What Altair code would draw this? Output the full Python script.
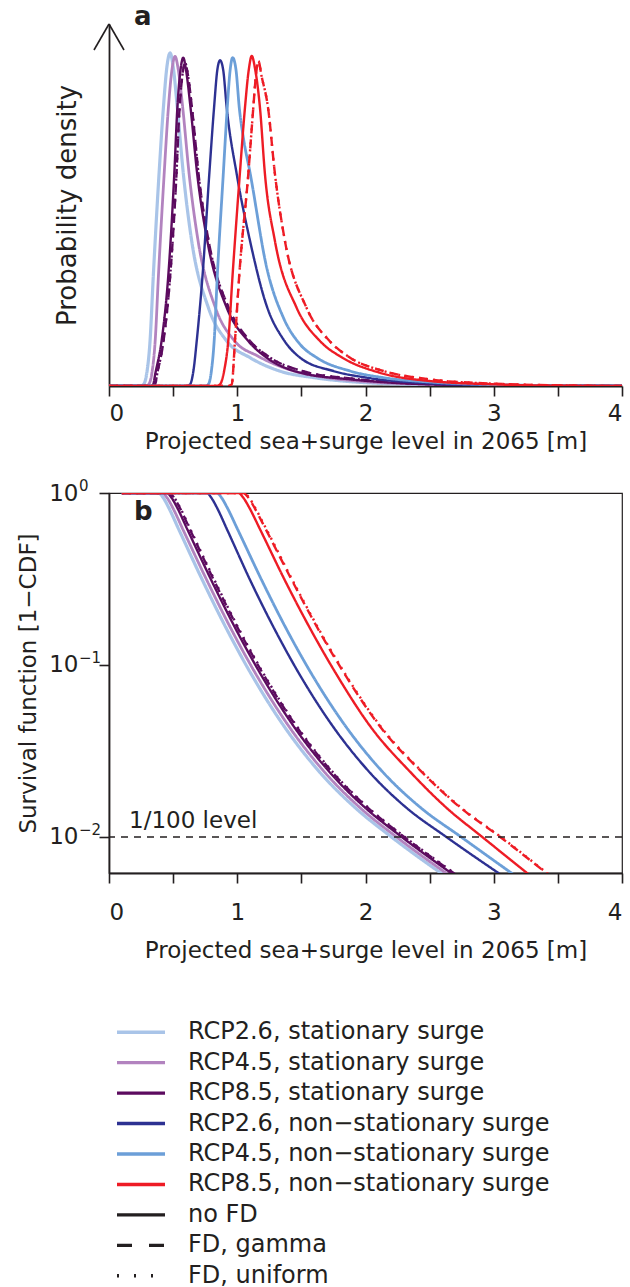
import altair as alt
import pandas as pd

FONT = "DejaVu Sans"
INK = "#231f20"

# ---------------- series names / styles ----------------
scenarios = [
    "RCP2.6, stationary surge",
    "RCP4.5, stationary surge",
    "RCP8.5, stationary surge",
    "RCP2.6, non\u2212stationary surge",
    "RCP4.5, non\u2212stationary surge",
    "RCP8.5, non\u2212stationary surge",
]
scenario_colors = ["#a9c4e8", "#b283bf", "#5c0b5f", "#2d3192", "#6c9fd8", "#ee1c25"]
fd_types = ["no FD", "FD, gamma", "FD, uniform"]

# ---------------- panel a: probability density (relative units) ----------------
dens_26s_x = [0, 0.25, 0.27, 0.293, 0.32, 0.346, 0.39, 0.424, 0.452, 0.476, 0.50, 0.533, 0.58, 0.645, 0.775, 0.918, 1.10, 1.33, 1.6, 2.0, 2.5, 3.0, 4.0]
dens_26s_y = [0, 0, 0.005, 0.035, 0.135, 0.335, 0.636, 0.835, 0.96, 1.0, 0.96, 0.835, 0.636, 0.435, 0.235, 0.135, 0.085, 0.045, 0.025, 0.01, 0.004, 0.001, 0]

dens_45s_x = [0, 0.29, 0.31, 0.333, 0.36, 0.386, 0.43, 0.463, 0.491, 0.515, 0.54, 0.575, 0.625, 0.695, 0.83, 0.98, 1.16, 1.4, 1.7, 2.0, 2.5, 3.0, 4.0]
dens_45s_y = [0, 0, 0.005, 0.035, 0.135, 0.335, 0.636, 0.835, 0.95, 0.99, 0.95, 0.835, 0.636, 0.435, 0.235, 0.135, 0.09, 0.05, 0.025, 0.013, 0.005, 0.0015, 0]

dens_85s_x = [0, 0.33, 0.345, 0.36, 0.41, 0.463, 0.509, 0.533, 0.558, 0.579, 0.60, 0.636, 0.688, 0.767, 0.918, 1.086, 1.23, 1.49, 1.88, 2.2, 2.6, 3.0, 4.0]
dens_85s_y = [0, 0, 0.005, 0.035, 0.135, 0.335, 0.636, 0.835, 0.95, 0.986, 0.95, 0.835, 0.636, 0.435, 0.235, 0.135, 0.085, 0.04, 0.02, 0.01, 0.004, 0.0015, 0]

dens_85s_fd_x = [0, 0.345, 0.36, 0.375, 0.425, 0.478, 0.524, 0.548, 0.573, 0.594, 0.615, 0.651, 0.703, 0.782, 0.933, 1.10, 1.245, 1.505, 1.9, 2.22, 2.62, 3.0, 4.0]
dens_85s_fd_y = [0, 0, 0.005, 0.035, 0.135, 0.335, 0.62, 0.82, 0.935, 0.97, 0.935, 0.82, 0.62, 0.425, 0.235, 0.135, 0.088, 0.045, 0.022, 0.011, 0.0045, 0.0015, 0]

dens_26n_x = [0, 0.60, 0.632, 0.66, 0.684, 0.73, 0.782, 0.819, 0.845, 0.866, 0.89, 0.918, 0.996, 1.10, 1.23, 1.36, 1.49, 1.75, 2.01, 2.5, 3.0, 3.5, 4.0]
dens_26n_y = [0, 0, 0.005, 0.05, 0.135, 0.335, 0.636, 0.835, 0.95, 0.978, 0.95, 0.835, 0.636, 0.435, 0.24, 0.14, 0.085, 0.045, 0.025, 0.008, 0.002, 0.0005, 0]

dens_45n_x = [0, 0.75, 0.775, 0.80, 0.82, 0.845, 0.891, 0.922, 0.945, 0.964, 0.99, 1.016, 1.05, 1.10, 1.23, 1.36, 1.49, 1.62, 1.88, 2.14, 2.5, 3.0, 3.5, 4.0]
dens_45n_y = [0, 0, 0.005, 0.05, 0.135, 0.335, 0.636, 0.835, 0.95, 0.986, 0.95, 0.835, 0.74, 0.64, 0.355, 0.205, 0.125, 0.085, 0.045, 0.025, 0.012, 0.004, 0.001, 0]

dens_85n_x = [0, 0.84, 0.866, 0.90, 0.93, 0.964, 1.02, 1.06, 1.09, 1.113, 1.14, 1.177, 1.216, 1.294, 1.463, 1.645, 1.82, 2.11, 2.5, 3.0, 3.5, 4.0]
dens_85n_y = [0, 0, 0.005, 0.05, 0.135, 0.335, 0.636, 0.835, 0.95, 0.991, 0.95, 0.836, 0.636, 0.435, 0.235, 0.135, 0.085, 0.04, 0.015, 0.005, 0.001, 0]

dens_85n_fd_x = [0, 0.93, 0.957, 0.982, 1.016, 1.086, 1.125, 1.145, 1.165, 1.19, 1.24, 1.294, 1.372, 1.54, 1.72, 1.88, 2.14, 2.5, 3.0, 3.5, 4.0]
dens_85n_fd_y = [0, 0, 0.005, 0.135, 0.335, 0.636, 0.835, 0.93, 0.976, 0.93, 0.836, 0.636, 0.435, 0.235, 0.135, 0.085, 0.045, 0.02, 0.007, 0.002, 0]

# ---------------- panel b: survival function (1 - CDF) ----------------
surv_levels = [1, 1, 0.933, 0.832, 0.610, 0.312, 0.162, 0.0891, 0.0437, 0.0234, 0.0148, 0.0100, 0.0060]
surv_26s_x = [0.10, 0.385, 0.425, 0.462, 0.546, 0.728, 0.917, 1.107, 1.368, 1.652, 1.919, 2.202, 2.61]
surv_45s_x = [0.10, 0.415, 0.455, 0.493, 0.578, 0.762, 0.952, 1.143, 1.405, 1.690, 1.957, 2.241, 2.65]
surv_85s_x = [0.10, 0.450, 0.490, 0.528, 0.613, 0.797, 0.988, 1.180, 1.443, 1.729, 1.997, 2.282, 2.69]
surv_85s_gamma_x = [0.10, 0.470, 0.510, 0.548, 0.633, 0.817, 1.008, 1.200, 1.463, 1.749, 2.017, 2.302, 2.71]
surv_85s_unif_x = [0.10, 0.470, 0.512, 0.551, 0.637, 0.822, 1.013, 1.205, 1.468, 1.754, 2.022, 2.307, 2.715]
surv_26n_x = [0.10, 0.762, 0.800, 0.838, 0.922, 1.100, 1.290, 1.482, 1.748, 2.040, 2.318, 2.630, 3.06]
surv_45n_x = [0.10, 0.840, 0.880, 0.918, 1.005, 1.190, 1.383, 1.578, 1.848, 2.145, 2.430, 2.745, 3.16]
surv_85n_x = [0.10, 1.008, 1.050, 1.090, 1.180, 1.370, 1.570, 1.770, 2.040, 2.360, 2.630, 2.910, 3.28]
surv_85n_gamma_x = [0.10, 1.047, 1.090, 1.130, 1.225, 1.425, 1.630, 1.835, 2.115, 2.450, 2.740, 3.050, 3.43]
surv_85n_unif_x = [0.10, 1.052, 1.095, 1.135, 1.230, 1.430, 1.635, 1.840, 2.120, 2.455, 2.745, 3.055, 3.435]

x_ticks = [0, 0.5, 1, 1.5, 2, 2.5, 3, 3.5, 4]
y_ticks_b = [1, 0.1, 0.01]
y_exponents_b = ["0", "\u22121", "\u22122"]
level_value = [0.01]

# ---------------- styles ----------------
dash_of = {"no FD": [1, 0], "FD, gamma": [9, 6], "FD, uniform": [2, 5]}
width_of = {0: 3.2, 1: 2.8, 2: 2.4, 3: 2.4, 4: 2.8, 5: 2.4}

dens_series = [
    (0, "no FD", dens_26s_x, dens_26s_y),
    (1, "no FD", dens_45s_x, dens_45s_y),
    (2, "no FD", dens_85s_x, dens_85s_y),
    (2, "FD, gamma", dens_85s_fd_x, dens_85s_fd_y),
    (2, "FD, uniform", dens_85s_fd_x, dens_85s_fd_y),
    (3, "no FD", dens_26n_x, dens_26n_y),
    (4, "no FD", dens_45n_x, dens_45n_y),
    (5, "no FD", dens_85n_x, dens_85n_y),
    (5, "FD, gamma", dens_85n_fd_x, dens_85n_fd_y),
    (5, "FD, uniform", dens_85n_fd_x, dens_85n_fd_y),
]
surv_series = [
    (0, "no FD", surv_26s_x, surv_levels),
    (1, "no FD", surv_45s_x, surv_levels),
    (2, "no FD", surv_85s_x, surv_levels),
    (2, "FD, gamma", surv_85s_gamma_x, surv_levels),
    (2, "FD, uniform", surv_85s_unif_x, surv_levels),
    (3, "no FD", surv_26n_x, surv_levels),
    (4, "no FD", surv_45n_x, surv_levels),
    (5, "no FD", surv_85n_x, surv_levels),
    (5, "FD, gamma", surv_85n_gamma_x, surv_levels),
    (5, "FD, uniform", surv_85n_unif_x, surv_levels),
]

W = 513
H_A = 362
H_B = 380
H_L = 274

x_axis = dict(
    values=x_ticks,
    labelExpr="datum.value % 1 === 0 ? format(datum.value, 'd') : ''",
    title="Projected sea+surge level in 2065 [m]",
    tickSize=10,
    grid=False,
)


def line_layers(series, xscale, yscale, xaxis, yaxis):
    layers = []
    for si, fd, xs, ys in series:
        df = pd.DataFrame({"x": xs, "y": ys})
        layers.append(
            alt.Chart(df)
            .mark_line(
                interpolate="monotone",
                clip=True,
                color=scenario_colors[si],
                strokeDash=dash_of[fd],
                strokeWidth=width_of[si],
            )
            .encode(
                x=alt.X("x:Q", scale=xscale, axis=xaxis),
                y=alt.Y("y:Q", scale=yscale, axis=yaxis),
            )
        )
    return layers


# ---------------- panel a ----------------
xs_a = alt.Scale(domain=[0, 4], nice=False, zero=False)
ys_a = alt.Scale(domain=[0, 1.087], nice=False)
axis_xa = alt.Axis(labelPadding=6, titlePadding=5, **x_axis)
axis_ya = alt.Axis(
    title="Probability density", ticks=False, labels=False, grid=False, titlePadding=29, titleFontSize=26
)

one = pd.DataFrame({"k": [0]})
arrow_l = alt.Chart(one).mark_rule(color=INK, strokeWidth=1.6).encode(
    x=alt.value(-15), x2=alt.value(0), y=alt.value(26), y2=alt.value(0)
)
arrow_r = alt.Chart(one).mark_rule(color=INK, strokeWidth=1.6).encode(
    x=alt.value(15), x2=alt.value(0), y=alt.value(26), y2=alt.value(0)
)
label_a = alt.Chart(one).mark_text(
    text="a", font=FONT, fontSize=26, fontWeight="bold", color=INK, align="left", baseline="alphabetic"
).encode(x=alt.value(25), y=alt.value(1))

panel_a = alt.layer(
    *line_layers(dens_series, xs_a, ys_a, axis_xa, axis_ya), arrow_l, arrow_r, label_a
).properties(width=W, height=H_A, view=alt.ViewBackground(stroke="transparent"))

# ---------------- panel b ----------------
xs_b = alt.Scale(domain=[0, 4], nice=False, zero=False)
ys_b = alt.Scale(type="log", domain=[0.00617, 1], nice=False)
axis_xb = alt.Axis(labelPadding=18, titlePadding=15, **x_axis)
axis_yb = alt.Axis(
    title="Survival function [1\u2212CDF]",
    values=y_ticks_b,
    labelExpr="'10'",
    tickSize=10,
    labelPadding=21,
    titlePadding=8,
    grid=False,
)

lvl = alt.Chart(pd.DataFrame({"y": level_value})).mark_rule(
    color=INK, strokeDash=[7, 6], strokeWidth=1.4
).encode(y=alt.Y("y:Q", scale=ys_b, axis=axis_yb))
lvl_text = alt.Chart(pd.DataFrame({"y": level_value})).mark_text(
    text="1/100 level", font=FONT, fontSize=23, color=INK, align="left", baseline="alphabetic", dy=-9
).encode(x=alt.value(20), y=alt.Y("y:Q", scale=ys_b, axis=axis_yb))
exps = alt.Chart(pd.DataFrame({"y": y_ticks_b, "e": y_exponents_b})).mark_text(
    font=FONT, fontSize=15, color=INK, align="left", baseline="alphabetic", dy=-2
).encode(x=alt.value(-30), y=alt.Y("y:Q", scale=ys_b, axis=axis_yb), text="e:N")
label_b = alt.Chart(one).mark_text(
    text="b", font=FONT, fontSize=26, fontWeight="bold", color=INK, align="left", baseline="alphabetic"
).encode(x=alt.value(25), y=alt.value(27))

panel_b = alt.layer(
    *line_layers(surv_series, xs_b, ys_b, axis_xb, axis_yb), lvl, lvl_text, exps, label_b
).properties(width=W, height=H_B, view=alt.ViewBackground(stroke=INK, strokeWidth=1.2))

# ---------------- legend panel ----------------
leg_labels = scenarios + fd_types
leg_colors = scenario_colors + [INK, INK, INK]
leg_dash = ["no FD"] * 6 + fd_types
leg_df = pd.DataFrame({"label": leg_labels, "col": leg_colors, "dash": leg_dash, "row": list(range(9))})
leg_y = alt.Y("row:O", axis=None, scale=alt.Scale(paddingInner=0, paddingOuter=0))
leg_rules = alt.Chart(leg_df).mark_rule(strokeWidth=3.4).encode(
    x=alt.value(8),
    x2=alt.value(56),
    y=leg_y,
    color=alt.Color("col:N", scale=None),
    strokeDash=alt.StrokeDash(
        "dash:N",
        scale=alt.Scale(domain=fd_types, range=[[1, 0], [15, 17], [2, 15]]),
        legend=None,
    ),
)
leg_text = alt.Chart(leg_df).mark_text(
    font=FONT, fontSize=24, color=INK, align="left", baseline="middle"
).encode(x=alt.value(79), y=leg_y, text="label:N")
legend_panel = alt.layer(leg_rules, leg_text).properties(
    width=W, height=H_L, view=alt.ViewBackground(stroke="transparent")
)

chart = (
    alt.vconcat(alt.vconcat(panel_a, panel_b, spacing=24), legend_panel, spacing=53)
    .properties(padding={"left": 17, "top": 3, "right": 5, "bottom": 0}, background="white")
    .configure_view(stroke="transparent")
    .configure_axis(
        domainColor=INK,
        domainWidth=1.8,
        tickColor=INK,
        tickWidth=1.6,
        labelFont=FONT,
        labelFontSize=23,
        labelColor=INK,
        titleFont=FONT,
        titleFontSize=23,
        titleColor=INK,
        titleFontWeight="normal",
    )
)

chart.save("out.html", embed_options={"renderer": "svg", "actions": False})
